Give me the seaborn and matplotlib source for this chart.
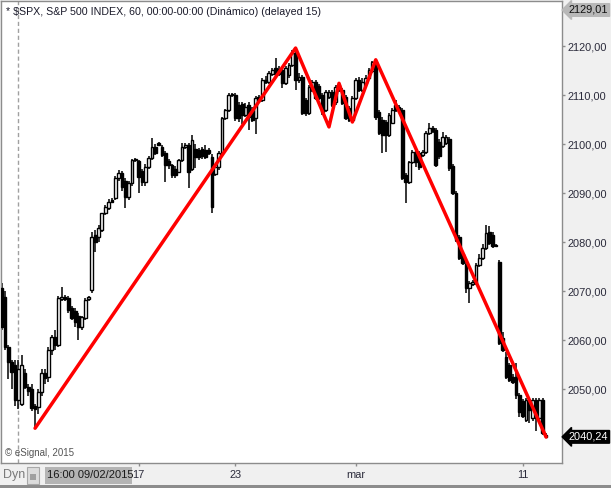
import numpy as np
import pandas as pd
import matplotlib.pyplot as plt
import seaborn as sns
from matplotlib.patches import Rectangle
from matplotlib.transforms import blended_transform_factory

sns.set_style("white")
plt.rcParams['font.family'] = ['Liberation Sans', 'DejaVu Sans']

# hourly candles, $SPX
opens = [
    2070.6, 2068.8, 2058.6, 2055.5, 2055.0, 2047.8, 2047.0, 2053.3, 2050.4, 2050.0,
    2046.5, 2046.3, 2049.4, 2053.3, 2052.5, 2058.0, 2060.6, 2059.0, 2068.4, 2068.8,
    2068.6, 2066.5, 2066.0, 2065.0, 2062.6, 2064.5, 2068.4, 2070.2, 2081.5, 2081.0,
    2082.5, 2085.9, 2087.0, 2088.6, 2089.0, 2093.0, 2094.1, 2092.5, 2089.2, 2092.0,
    2096.7, 2096.6, 2094.5, 2092.2, 2095.3, 2097.1, 2099.4, 2100.1, 2099.4, 2098.2,
    2096.5, 2095.7, 2095.0, 2094.3, 2096.7, 2099.4, 2099.8, 2095.0, 2099.0, 2098.8,
    2099.0, 2098.8, 2098.8, 2097.3, 2093.8, 2095.3, 2098.2, 2105.3, 2106.9, 2110.0,
    2110.0, 2108.0, 2108.2, 2105.9, 2108.0, 2107.0, 2105.3, 2109.6, 2109.0, 2113.1,
    2112.7, 2114.3, 2115.5, 2114.3, 2115.1, 2112.5, 2114.0, 2116.1, 2118.6, 2113.1,
    2113.7, 2109.0, 2106.3, 2111.0, 2112.7, 2111.8, 2110.0, 2106.9, 2109.6, 2110.6,
    2108.5, 2112.0, 2111.0, 2109.6, 2107.3, 2104.9, 2109.4, 2113.1, 2111.0, 2112.5,
    2113.5, 2115.0, 2116.7, 2106.5, 2105.0, 2104.5, 2101.8, 2104.3, 2108.0, 2107.5,
    2107.0, 2093.7, 2092.2, 2096.3, 2098.4, 2098.2, 2097.8, 2098.4, 2102.2, 2103.3,
    2102.9, 2100.5, 2099.6, 2100.2, 2101.0, 2095.5, 2090.0, 2081.0, 2077.5, 2075.5,
    2070.6, 2071.5, 2071.6, 2075.3, 2076.7, 2078.8, 2082.0, 2081.5, 2079.3, 2075.9,
    2060.5, 2056.5, 2055.0, 2052.5, 2052.4, 2048.8, 2047.5, 2043.7, 2047.5, 2044.0,
    2047.8, 2044.0, 2047.8, 2040.6,
]
highs = [
    2071.6, 2070.0, 2059.0, 2056.0, 2056.0, 2056.0, 2057.0, 2054.0, 2051.0, 2051.0,
    2047.0, 2050.0, 2054.0, 2054.0, 2058.5, 2061.0, 2062.0, 2069.0, 2070.8, 2069.2,
    2069.0, 2067.0, 2066.5, 2065.5, 2065.0, 2068.5, 2069.0, 2082.0, 2082.5, 2083.5,
    2086.0, 2087.5, 2088.8, 2089.0, 2093.5, 2094.7, 2094.5, 2093.0, 2092.5, 2097.0,
    2097.2, 2096.7, 2095.0, 2096.0, 2097.5, 2101.2, 2100.0, 2100.4, 2099.8, 2098.5,
    2097.0, 2096.0, 2095.5, 2097.0, 2100.2, 2100.2, 2100.2, 2101.8, 2100.0, 2099.2,
    2099.5, 2099.8, 2099.2, 2098.0, 2096.0, 2098.5, 2105.6, 2107.2, 2110.4, 2110.5,
    2110.4, 2108.5, 2108.6, 2108.3, 2108.5, 2107.5, 2109.8, 2110.0, 2113.5, 2113.8,
    2115.0, 2115.5, 2117.6, 2116.0, 2115.5, 2116.0, 2116.5, 2119.2, 2119.3, 2114.5,
    2114.0, 2109.5, 2112.0, 2113.0, 2113.1, 2112.2, 2110.5, 2111.0, 2111.0, 2111.0,
    2112.0, 2112.5, 2111.4, 2110.0, 2107.7, 2109.8, 2113.5, 2113.6, 2113.5, 2114.0,
    2115.5, 2117.0, 2117.4, 2107.0, 2105.5, 2105.0, 2106.3, 2107.3, 2109.0, 2108.0,
    2107.4, 2094.0, 2096.6, 2098.8, 2099.0, 2098.6, 2098.8, 2102.6, 2104.3, 2103.7,
    2103.3, 2101.0, 2102.4, 2101.8, 2101.4, 2096.0, 2090.4, 2081.4, 2078.0, 2076.0,
    2072.0, 2072.3, 2075.7, 2077.5, 2079.5, 2083.5, 2083.2, 2082.0, 2079.5, 2076.3,
    2061.6, 2057.6, 2055.4, 2053.0, 2055.3, 2049.2, 2048.0, 2048.2, 2048.0, 2048.2,
    2048.2, 2048.2, 2048.2, 2041.0,
]
lows = [
    2062.0, 2058.0, 2052.0, 2050.0, 2046.5, 2046.0, 2046.5, 2050.0, 2048.5, 2045.5,
    2042.0, 2045.0, 2048.5, 2051.0, 2051.5, 2057.0, 2058.0, 2058.5, 2068.0, 2068.0,
    2065.5, 2064.0, 2062.6, 2060.0, 2062.0, 2064.0, 2068.0, 2069.5, 2078.0, 2080.0,
    2082.0, 2085.5, 2086.5, 2088.0, 2088.5, 2092.5, 2090.5, 2086.9, 2088.5, 2091.5,
    2096.3, 2090.0, 2091.5, 2091.5, 2095.0, 2096.8, 2097.8, 2099.6, 2097.3, 2092.2,
    2095.0, 2093.1, 2093.0, 2094.0, 2096.3, 2099.0, 2091.0, 2094.5, 2095.1, 2096.8,
    2097.0, 2097.0, 2097.8, 2085.9, 2093.5, 2094.8, 2097.8, 2105.0, 2106.5, 2109.6,
    2104.8, 2104.5, 2104.0, 2105.5, 2102.8, 2104.5, 2102.0, 2108.3, 2108.5, 2112.2,
    2112.2, 2113.8, 2113.5, 2113.8, 2111.4, 2112.0, 2113.5, 2115.8, 2111.0, 2112.5,
    2106.0, 2105.8, 2106.0, 2110.6, 2109.0, 2109.0, 2106.0, 2106.5, 2109.2, 2107.6,
    2108.0, 2110.6, 2108.0, 2105.0, 2104.5, 2104.5, 2109.0, 2110.6, 2110.6, 2112.0,
    2113.0, 2114.6, 2105.0, 2101.8, 2098.2, 2098.4, 2101.4, 2104.0, 2106.5, 2106.5,
    2092.6, 2088.0, 2091.8, 2096.0, 2095.3, 2094.8, 2097.4, 2098.0, 2101.8, 2102.2,
    2095.3, 2097.0, 2099.2, 2099.8, 2094.6, 2089.6, 2080.0, 2076.3, 2075.3, 2069.6,
    2067.5, 2071.0, 2071.2, 2074.9, 2076.3, 2078.4, 2079.4, 2078.8, 2078.9, 2059.0,
    2057.6, 2052.0, 2051.4, 2051.0, 2048.0, 2044.3, 2044.0, 2043.3, 2043.0, 2043.5,
    2041.5, 2043.5, 2040.6, 2040.0,
]
closes = [
    2062.6, 2058.6, 2055.5, 2053.5, 2047.8, 2054.0, 2055.0, 2050.4, 2049.5, 2046.1,
    2046.0, 2049.4, 2053.3, 2052.3, 2058.0, 2060.6, 2059.0, 2068.6, 2068.8, 2068.4,
    2066.1, 2064.5, 2063.7, 2062.6, 2064.6, 2068.2, 2068.8, 2081.0, 2080.0, 2082.9,
    2085.9, 2087.1, 2088.2, 2088.2, 2093.1, 2094.1, 2091.2, 2089.2, 2092.0, 2096.7,
    2096.9, 2093.3, 2092.2, 2095.3, 2097.1, 2099.4, 2098.2, 2099.9, 2097.8, 2095.7,
    2095.7, 2093.7, 2093.7, 2096.7, 2099.4, 2099.8, 2094.3, 2100.8, 2097.3, 2097.3,
    2097.5, 2097.3, 2098.2, 2087.1, 2095.3, 2098.2, 2105.3, 2106.9, 2110.0, 2110.2,
    2105.3, 2105.3, 2105.9, 2107.5, 2105.5, 2105.0, 2109.4, 2108.8, 2113.1, 2112.7,
    2114.5, 2115.1, 2114.3, 2115.3, 2112.5, 2115.5, 2116.1, 2118.6, 2113.1, 2113.7,
    2106.3, 2106.3, 2111.6, 2112.7, 2109.4, 2109.4, 2106.5, 2110.6, 2110.6, 2108.0,
    2111.6, 2111.0, 2108.4, 2105.3, 2104.9, 2109.4, 2113.1, 2111.0, 2112.7, 2113.5,
    2115.1, 2116.7, 2105.5, 2102.2, 2101.8, 2101.8, 2105.9, 2106.9, 2106.9, 2106.9,
    2093.1, 2092.2, 2096.3, 2098.4, 2096.3, 2095.3, 2098.4, 2102.2, 2103.3, 2102.6,
    2095.7, 2097.5, 2101.4, 2101.4, 2095.1, 2090.0, 2080.4, 2076.7, 2075.7, 2070.6,
    2071.6, 2071.9, 2075.3, 2076.7, 2078.8, 2081.8, 2079.8, 2079.2, 2079.1, 2059.4,
    2058.0, 2052.4, 2051.8, 2051.4, 2048.8, 2045.3, 2044.5, 2047.8, 2045.7, 2047.8,
    2044.0, 2047.8, 2041.0, 2040.24,
]

# red zigzag (bar index, price)
zz_bar = [10, 88, 98, 101, 105, 112, 163]
zz_price = [2042.0, 2119.6, 2103.5, 2112.4, 2104.5, 2117.2, 2040.2]

x_tick_bars = [41, 70, 106, 156]
x_tick_labels = ['17', '23', 'mar', '11']
y_ticks = [2050, 2060, 2070, 2080, 2090, 2100, 2110, 2120]
last_price = 2040.24
top_price = 2129.01
cursor_bar = 5

W, H = 611, 488
fig = plt.figure(figsize=(W / 100, H / 100), dpi=100, facecolor='#f0f0f0')
ax = fig.add_axes([1 / W, 25 / H, 561 / W, 462 / H])
ax.set_facecolor('white')

df = pd.DataFrame({'open': opens, 'high': highs, 'low': lows, 'close': closes})
df['bar'] = np.arange(len(df))
up = df['close'] >= df['open']
body_lo = df[['open', 'close']].min(axis=1)
body_h = np.maximum((df['close'] - df['open']).abs(), 0.25)

ax.vlines(df['bar'], df['low'], df['high'], color='black', lw=1.1, zorder=2)
ax.bar(df['bar'][up], body_h[up], bottom=body_lo[up], width=0.82,
       facecolor='white', edgecolor='black', lw=1.0, zorder=3)
ax.bar(df['bar'][~up], body_h[~up], bottom=body_lo[~up], width=0.82,
       facecolor='black', edgecolor='black', lw=1.0, zorder=3)

sns.lineplot(x=zz_bar, y=zz_price, ax=ax, color='#ff0000', lw=2.5,
             sort=False, estimator=None, zorder=4)

ax.axvline(cursor_bar, color='#a0a0a0', ls=(0, (3, 2)), lw=1, zorder=1)

ax.set_xlim(-0.2, -0.2 + 561 / 3.34)
ax.set_ylim(2034.9, 2129.2)

for s in ax.spines.values():
    s.set_color('#8c8c8c')
    s.set_linewidth(1)

ax.yaxis.tick_right()
ax.set_yticks(y_ticks)
ax.set_yticklabels([f'{v:.2f}'.replace('.', ',') for v in y_ticks])
ax.tick_params(axis='y', right=True, left=False, labelright=True, labelleft=False,
               direction='out', length=2.2, width=1, color='#8c8c8c',
               labelsize=7.9, labelcolor='#2b2b3b', pad=1.5)
ax.set_xticks(x_tick_bars)
ax.set_xticklabels(x_tick_labels)
ax.tick_params(axis='x', bottom=True, direction='out', length=2.2, width=1,
               color='#8c8c8c', labelsize=7.9, labelcolor='#2b2b3b', pad=3.2)

# price tags on the right scale
tr = blended_transform_factory(ax.transAxes, ax.transData)
ax.text(1.012, last_price, f'{last_price:.2f}'.replace('.', ','), transform=tr,
        ha='left', va='center', color='white', fontsize=7.9, clip_on=False,
        bbox=dict(boxstyle='larrow,pad=0.12', fc='black', ec='black'))
ax.text(1.012, 1 - 9 / 462, f'{top_price:.2f}'.replace('.', ','),
        transform=ax.transAxes, ha='left', va='center', color='#111111',
        fontsize=7.9, clip_on=False,
        bbox=dict(boxstyle='larrow,pad=0.12', fc='#b8b8b8', ec='#b8b8b8'))

fig.text(6 / W, 1 - 12 / H,
         '* $SPX, S&P 500 INDEX, 60, 00:00-00:00 (Dinámico) (delayed 15)',
         fontsize=7.7, color='#1a1a2a', va='center', ha='left')
fig.text(5 / W, 1 - 453 / H, '© eSignal, 2015', fontsize=7, color='#555555',
         va='center', ha='left')

# bottom bar widgets
fig.text(3 / W, 1 - 475 / H, 'Dyn', fontsize=9, color='#7a7a7a', va='center', ha='left')
fig.add_artist(Rectangle((27 / W, 1 - 484 / H), 12 / W, 17 / H, transform=fig.transFigure,
                         fc='#dcdcdc', ec='#a8a8a8', lw=0.8))
fig.add_artist(Rectangle((30 / W, 1 - 480 / H), 6 / W, 6 / H, transform=fig.transFigure,
                         fc='#a0a0a0', ec='none'))
fig.add_artist(Rectangle((45 / W, 1 - 484 / H), 87 / W, 17 / H, transform=fig.transFigure,
                         fc='#b4b4b4', ec='none'))
fig.text(47 / W, 1 - 475.5 / H, '16:00 09/02/2015', fontsize=8, color='#1a1a1a',
         va='center', ha='left')
fig.add_artist(Rectangle((0, 0), 1, 3.5 / H, transform=fig.transFigure,
                         fc='#8c8c8c', ec='none'))

fig.savefig('out.png', dpi=100, facecolor=fig.get_facecolor())
